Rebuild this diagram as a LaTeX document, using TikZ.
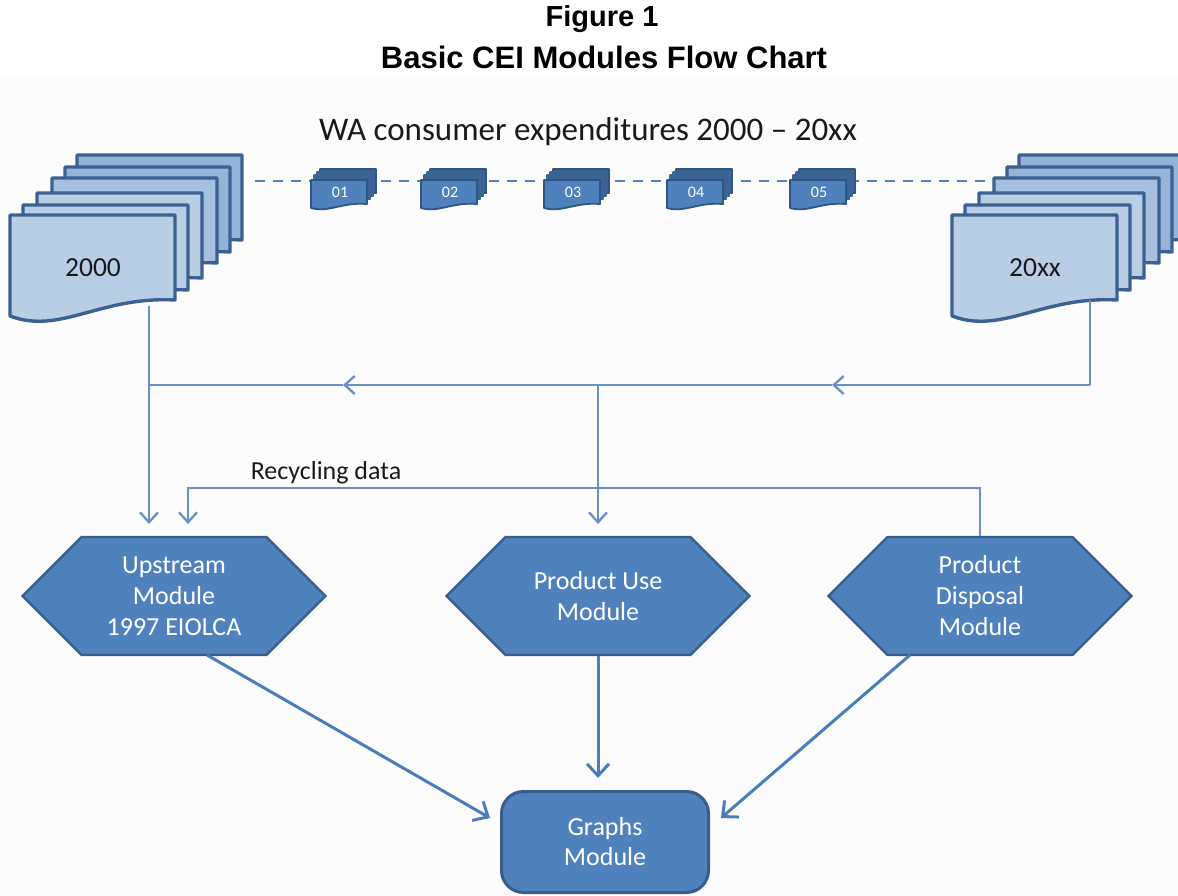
\documentclass[tikz,border=0pt]{standalone}
\usepackage{fontspec}
\setmainfont{Carlito}
\newfontfamily\titlefont{Liberation Sans}
\usetikzlibrary{arrows.meta,shapes.symbols}

\definecolor{docL}{HTML}{B9CDE5}
\definecolor{docM}{HTML}{A7C0DF}
\definecolor{docD}{HTML}{95B3D7}
\definecolor{docB}{HTML}{3A6191}
\definecolor{modF}{HTML}{4F81BD}
\definecolor{modB}{HTML}{385D8A}
\definecolor{smallB}{HTML}{2F5583}
\definecolor{smallD}{HTML}{3A6396}
\definecolor{linkC}{HTML}{6990C6}
\definecolor{arrC}{HTML}{4A7EBB}
\definecolor{inkC}{HTML}{1A1A1A}

\begin{document}
\begin{tikzpicture}[x=1pt,y=-1pt,
  doc/.pic={\path[pic actions] (0,0) -- (165,0) -- (165,85)
      .. controls (90,81) and (50,120) .. (0,101) -- cycle;},
  minidoc/.pic={\path[pic actions] (0,0) -- (56,0) -- (56,24)
      .. controls (30,22) and (18,33) .. (0,28) -- cycle;},
  sheet/.style={line width=3.4pt, draw=docB, line join=round},
  minisheet/.style={line width=1.8pt, draw=smallB, line join=round},
  hexa/.style={signal, signal to=west and east, signal pointer angle=90,
      minimum width=303pt, minimum height=118pt, inner sep=0pt,
      fill=modF, draw=modB, line width=2.2pt, text=white, align=center,
      font=\fontsize{26}{31}\selectfont},
  gbox/.style={rectangle, rounded corners=22pt, minimum width=207pt,
      minimum height=101pt, fill=modF, draw=modB, line width=3pt,
      text=white, align=center, font=\fontsize{26}{30}\selectfont},
  link/.style={draw=linkC, line width=2.3pt},
  tip/.style={-{Straight Barb[length=10pt,width=18pt]}},
  flow/.style={draw=arrC, line width=3pt, -{Straight Barb[length=12pt,width=22pt]}},
  label/.style={text=inkC, inner sep=0pt},
  heading/.style={font=\titlefont\bfseries\fontsize{31}{36}\selectfont, inner sep=0pt}
]
\clip (0,0) rectangle (1178,896);
\fill[white] (0,0) rectangle (1178,896);
\fill[white!99!black] (0,75) rectangle (1178,896);

% heading
\node[heading, font=\titlefont\bfseries\fontsize{29}{34}\selectfont] (t1) at (602,19) {Figure 1};
\node[heading] (t2) at (604,57) {Basic CEI Modules Flow Chart};

\node[label, font=\fontsize{33}{36}\selectfont] (wa) at (588,132) {WA consumer expenditures 2000 -- 20xx};

% timeline of yearly data sets
\draw[draw=modF, line width=2.2pt, dash pattern=on 10pt off 8pt] (255,181) -- (985,181);
\foreach \n/\x in {01/311,02/421,03/544,04/667,05/790}{
  \pic[minisheet, fill=smallD] at (\x+9,169) {minidoc};
  \foreach \o in {6,3}
    \pic[minisheet, fill=smallD, draw=smallD] at (\x+\o,180-\o-2) {minidoc};
  \pic[minisheet, fill=modF] at (\x,180) {minidoc};
  \node[text=white, font=\fontsize{16}{18}\selectfont] (s\n) at (\x+29,192) {\n};
}

% stacks of yearly expenditure tables
\foreach \dx/\dy/\c in {67/-60/docD,55/-48/docD,42/-37/docM,27/-22/docL,13/-10/docL,0/0/docL}{
  \pic[sheet, fill=\c] at (10+\dx,215+\dy) {doc};
  \pic[sheet, fill=\c] at (952+\dx,215+\dy) {doc};
}
\node[label, font=\fontsize{27.5}{30}\selectfont] (y1) at (93,268) {2000};
\node[label, font=\fontsize{27.5}{30}\selectfont] (y2) at (1035,268) {20xx};

% modules
\node[hexa] (up) at (174,596) {Upstream\\Module\\1997 EIOLCA};
\node[hexa] (pu) at (598,596) {Product Use\\Module};
\node[hexa] (pd) at (980,596) {Product\\Disposal\\Module};
\node[gbox] (gr) at (605,842) {Graphs\\Module};

% connector points
\coordinate (d1b) at (149,306);
\coordinate (d2b) at (1090,300);
\coordinate (jL) at (149,385);
\coordinate (jC) at (598,385);
\coordinate (jR) at (1090,385);
\coordinate (m1) at (343,385);
\coordinate (m2) at (832,385);
\coordinate (upA) at (149,524);
\coordinate (upB) at (188,524);
\coordinate (puA) at (598,524);
\coordinate (rc1) at (980,488);
\coordinate (rc2) at (188,488);
\coordinate (upO) at (207,655);
\coordinate (pdO) at (910,655);
\coordinate (grL) at (490,818);
\coordinate (grR) at (721,818);
\coordinate (grT) at (598,778);

% data flow to the modules
\draw[link, tip] (d1b) -- (upA);
\draw[link] (d2b) -- (jR);
\draw[link, tip] (jR) -- (m2);
\draw[link, tip] (m2) -- (m1);
\draw[link] (m1) -- (jL);
\draw[link, tip] (jC) -- (puA);
\draw[link, tip] (pd.north) -- (rc1) -- (rc2) -- (upB);
\node[label, font=\fontsize{26}{28}\selectfont] (rd) at (326,473) {Recycling data};

% results to the graphs module
\draw[flow] (upO) -- (grL);
\draw[flow] (pu.south) -- (grT);
\draw[flow] (pdO) -- (grR);
\end{tikzpicture}
\end{document}
